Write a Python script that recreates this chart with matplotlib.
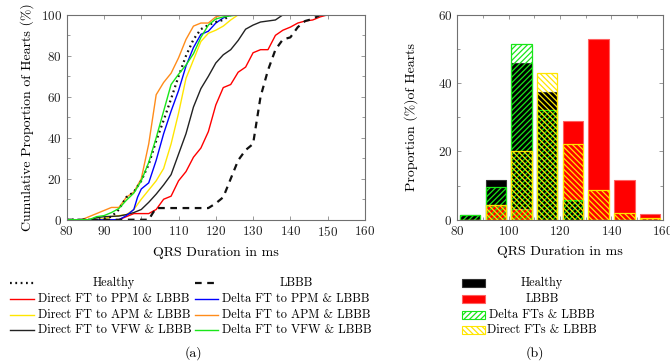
import numpy as np
import matplotlib
matplotlib.use("Agg")
import matplotlib.pyplot as plt
from matplotlib.lines import Line2D
from matplotlib.patches import Rectangle
from matplotlib.ticker import MultipleLocator

plt.rcParams['font.family'] = ['cmr10', 'DejaVu Serif']
plt.rcParams['axes.formatter.use_mathtext'] = True
plt.rcParams['hatch.linewidth'] = 0.9

# ---- (a) cumulative curves: (QRS ms, cumulative %) ----
healthy_x = [80, 88, 90, 92, 94, 96, 98, 100, 102, 104, 106, 108, 110, 112, 114, 116, 118, 120, 122, 124, 160]
healthy_y = [0, 0, 0.5, 1.5, 5, 11, 13.5, 19, 27, 38.5, 48.5, 59, 70, 80, 88, 93, 95, 96.5, 97.5, 100, 100]

lbbb_x = [80, 102, 103, 104, 118, 120, 122, 124, 126, 128, 130, 132, 134, 136, 138, 140, 142, 144, 146, 148, 160]
lbbb_y = [0, 0, 3, 5.7, 5.7, 8, 11, 20, 29, 34, 37, 60, 73, 83, 88, 89, 94, 97, 98, 100, 100]

dppm_x = [80, 94, 96, 98, 102, 104, 106, 108, 110, 112, 114, 116, 118, 120, 122, 124, 126, 128, 130,
          132, 134, 136, 138, 140, 142, 144, 146, 148, 150, 160]
dppm_y = [0, 0, 1.5, 3, 3, 5, 10, 11.5, 19, 23.5, 30.5, 35, 43, 56, 64.5, 66, 72, 74.5, 81.5,
          83, 83, 90, 92.5, 94, 96, 97, 97.5, 99, 100, 100]

deppm_x = [80, 94, 96, 98, 99, 100, 102, 104, 106, 108, 110, 112, 114, 116, 118, 120, 122, 124, 160]
deppm_y = [0, 0, 2, 5, 11, 15, 18, 29, 42, 53, 63, 75, 84, 90.5, 92, 96, 98.5, 100, 100]

dapm_x = [80, 88, 90, 92, 94, 96, 98, 100, 102, 104, 106, 108, 110, 112, 114, 116, 118, 120, 122, 124, 126, 160]
dapm_y = [0, 0, 0.5, 1.5, 2, 2.5, 5, 10, 14.5, 19, 25, 37, 52, 69, 78, 87, 91, 92.5, 94.5, 97.5, 100, 100]

deapm_x = [80, 84, 86, 88, 90, 92, 94, 96, 98, 100, 102, 104, 106, 108, 110, 112, 114, 116, 118, 120, 122, 160]
deapm_y = [0, 0, 1.5, 3, 4.5, 6, 6, 11, 13.5, 20, 37, 61, 67, 71.5, 79, 88, 94.5, 96, 96, 99, 100, 100]

dvfw_x = [80, 86, 88, 90, 94, 96, 98, 100, 102, 104, 106, 108, 110, 112, 114, 116, 118, 120, 122, 124,
          126, 128, 130, 132, 134, 136, 138, 160]
dvfw_y = [0, 0, 1, 1.5, 1.8, 2.5, 3.5, 5, 8.5, 12.5, 17, 22, 32, 42, 55, 64, 70, 76.5, 80.5, 83,
          87.5, 93, 95, 96.5, 97, 97.5, 100, 100]

devfw_x = [80, 86, 88, 90, 92, 94, 96, 98, 100, 102, 104, 106, 108, 110, 112, 114, 116, 118, 120, 122, 124, 126, 160]
devfw_y = [0, 0, 1.5, 2, 3.5, 5.5, 9.5, 13, 19, 28, 40, 53, 66, 71, 75.5, 81, 89, 95, 98, 99, 99.5, 100, 100]

# ---- (b) histogram (% of hearts per 10 ms bin) ----
bin_left = np.array([80, 90, 100, 110, 120, 130, 140, 150])
hist_healthy = [1.5, 11.7, 46.0, 37.3, 5.7, 0, 0, 0]
hist_lbbb = [0, 4.3, 3.0, 0, 28.8, 53.0, 11.7, 1.7]
hist_delta = [1.5, 9.6, 51.6, 32.1, 5.8, 0, 0, 0]
hist_direct = [0, 4.3, 20.0, 43.0, 22.2, 8.7, 2.0, 0.6]

c_red, c_blue, c_yel, c_orange, c_green = '#ff0000', '#0000ff', '#ffe600', '#ff8c1a', '#19e619'
dot = (0, (0.8, 1.6))
dash = (0, (3, 2.5))

W, H = 670, 362
fig = plt.figure(figsize=(6.7, 3.62), dpi=100)
ax1 = fig.add_axes([0.0996, 0.393, 0.445, 0.566])
ax2 = fig.add_axes([0.6826, 0.393, 0.3066, 0.566])


def style(ax):
    for s in ax.spines.values():
        s.set_color('#707070')
        s.set_linewidth(0.8)
    ax.tick_params(which='both', direction='in', top=True, right=True, colors='#707070',
                   labelcolor='#222222', labelsize=9.5, width=0.5)
    ax.tick_params(which='major', length=3)
    ax.tick_params(which='minor', length=2)


lw = 1.0
ax1.plot(dppm_x, dppm_y, color=c_red, lw=lw)
ax1.plot(dapm_x, dapm_y, color=c_yel, lw=lw)
ax1.plot(dvfw_x, dvfw_y, color='#222222', lw=lw)
ax1.plot(deppm_x, deppm_y, color=c_blue, lw=lw)
ax1.plot(deapm_x, deapm_y, color=c_orange, lw=lw)
ax1.plot(healthy_x, healthy_y, color='#111111', lw=1.6, ls=dot)
ax1.plot(lbbb_x, lbbb_y, color='#111111', lw=1.6, ls=dash)
ax1.plot(devfw_x, devfw_y, color=c_green, lw=lw)
ax1.set_xlim(80, 160)
ax1.set_ylim(0, 100)
ax1.xaxis.set_major_locator(MultipleLocator(10))
ax1.yaxis.set_major_locator(MultipleLocator(20))
ax1.yaxis.set_minor_locator(MultipleLocator(10))
ax1.set_xlabel('QRS Duration in ms', fontsize=10, labelpad=6)
ax1.set_ylabel('Cumulative Proportion of Hearts (%)', fontsize=10, labelpad=5)
style(ax1)

# overlaid bars: in each bin the taller solid bar sits underneath
w = 8
xc = bin_left + 5
hb = ax2.bar(xc, hist_healthy, width=w, color='black', edgecolor='#333333', lw=0.8)
lb = ax2.bar(xc, hist_lbbb, width=w, color=c_red, edgecolor='#ff6060', lw=0.8)
for bh, bl, vh, vl in zip(hb, lb, hist_healthy, hist_lbbb):
    if vh >= vl:
        bh.set_zorder(1.0); bl.set_zorder(1.1)
    else:
        bl.set_zorder(1.0); bh.set_zorder(1.1)
ax2.bar(xc, hist_delta, width=w, facecolor='none', edgecolor=c_green, hatch='//////', lw=0.9, zorder=1.2)
ax2.bar(xc, hist_direct, width=w, facecolor='none', edgecolor=c_yel, hatch='\\\\\\\\\\\\', lw=0.9, zorder=1.3)
ax2.set_xlim(80, 160)
ax2.set_ylim(0, 60)
ax2.xaxis.set_major_locator(MultipleLocator(20))
ax2.xaxis.set_minor_locator(MultipleLocator(10))
ax2.yaxis.set_major_locator(MultipleLocator(20))
ax2.yaxis.set_minor_locator(MultipleLocator(10))
ax2.set_xlabel('QRS Duration in ms', fontsize=10, labelpad=6)
ax2.set_ylabel('Proportion (%)of Hearts', fontsize=10, labelpad=14)
style(ax2)

# legends, laid out like the pgfplots ones (pixel positions in the 670x362 canvas)
rows = [283, 299, 315, 330]


def fx(px):
    return px / W


def fy(py):
    return 1 - py / H


left_col1 = [('Healthy', '#111111', 1.6, dot, True),
             ('Direct FT to PPM & LBBB', c_red, lw, '-', False),
             ('Direct FT to APM & LBBB', c_yel, lw, '-', False),
             ('Direct FT to VFW & LBBB', '#222222', lw, '-', False)]
left_col2 = [('LBBB', '#111111', 1.6, dash, True),
             ('Delta FT to PPM & LBBB', c_blue, lw, '-', False),
             ('Delta FT to APM & LBBB', c_orange, lw, '-', False),
             ('Delta FT to VFW & LBBB', c_green, lw, '-', False)]
for col, (hx0, hx1, tx, tc) in zip([left_col1, left_col2], [(10, 34, 38, 114), (195, 218, 222, 296)]):
    for (lab, c, lwi, ls, centred), y in zip(col, rows):
        fig.add_artist(Line2D([fx(hx0), fx(hx1)], [fy(y), fy(y)], color=c, lw=lwi, ls=ls))
        if centred:
            fig.text(fx(tc), fy(y), lab, fontsize=8.8, ha='center', va='center')
        else:
            fig.text(fx(tx), fy(y), lab, fontsize=8.8, ha='left', va='center')

right_items = [('Healthy', dict(facecolor='black', edgecolor='#333333')),
               ('LBBB', dict(facecolor=c_red, edgecolor='#ff6060')),
               ('Delta FTs & LBBB', dict(facecolor='white', edgecolor=c_green, hatch='//////')),
               ('Direct FTs & LBBB', dict(facecolor='white', edgecolor=c_yel, hatch='\\\\\\\\\\\\'))]
for (lab, kw), y in zip(right_items, rows):
    fig.add_artist(Rectangle((fx(462), fy(y + 4)), fx(23), 8 / H, lw=0.8, **kw))
    fig.text(fx(542), fy(y), lab, fontsize=8.8, ha='center', va='center')

fig.text(fx(193), fy(353), '(a)', fontsize=10, ha='center', va='center')
fig.text(fx(535), fy(353), '(b)', fontsize=10, ha='center', va='center')

fig.savefig('out.png', dpi=100)
